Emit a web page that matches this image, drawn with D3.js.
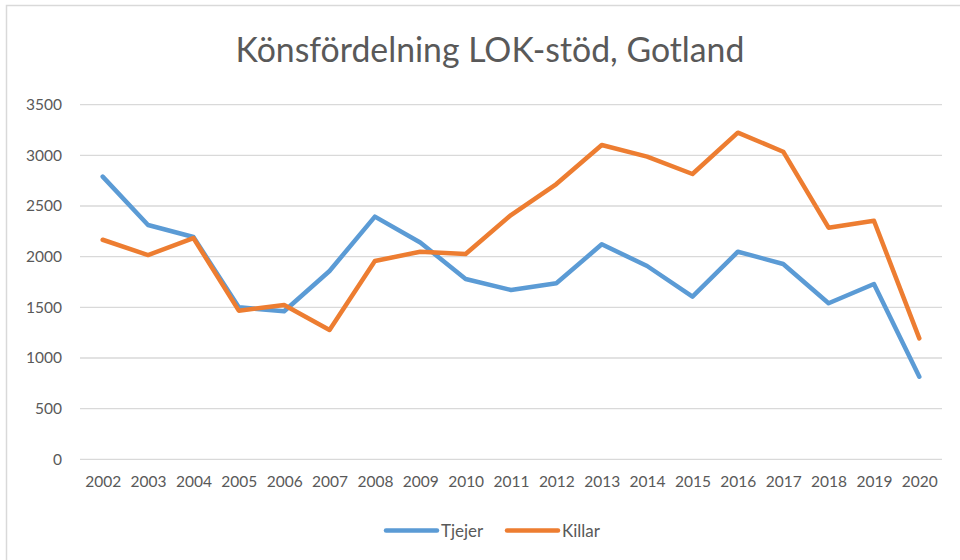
<!DOCTYPE html>
<html>
<head>
<meta charset="utf-8">
<script src="https://cdn.jsdelivr.net/npm/d3@7"></script>
<style>
  html, body { margin: 0; padding: 0; background: #fff; }
  svg { display: block; }
</style>
</head>
<body>
<svg id="chart" width="960" height="560"></svg>
<script>
const title = "Könsfördelning LOK-stöd, Gotland";
const years = ["2002","2003","2004","2005","2006","2007","2008","2009","2010","2011","2012","2013","2014","2015","2016","2017","2018","2019","2020"];
const tjejer = [2790, 2313, 2194, 1500, 1461, 1859, 2395, 2140, 1780, 1671, 1737, 2122, 1908, 1605, 2049, 1928, 1540, 1730, 815];
const killar = [2167, 2016, 2184, 1467, 1523, 1276, 1957, 2049, 2026, 2411, 2717, 3102, 2987, 2816, 3224, 3036, 2286, 2355, 1194];
const yTicks = [0, 500, 1000, 1500, 2000, 2500, 3000, 3500];
const seriesNames = ["Tjejer", "Killar"];
const seriesColors = ["#5b9bd5", "#ed7d31"];

const svg = d3.select("#chart");
const font = "Lato, 'Open Sans', sans-serif";
const textColor = "#595959";

// outer border
svg.append("rect")
  .attr("x", 6.5).attr("y", 5.5).attr("width", 1000).attr("height", 1000)
  .attr("fill", "#fff").attr("stroke", "#d9d9d9").attr("stroke-width", 1.5);

const x = d3.scalePoint().domain(years).range([80, 942]).padding(0.5);
const y = d3.scaleLinear().domain([0, 3500]).range([459.3, 104.7]);

// gridlines
svg.append("g")
  .selectAll("line").data(yTicks).join("line")
  .attr("x1", 80).attr("x2", 942)
  .attr("y1", d => y(d)).attr("y2", d => y(d))
  .attr("stroke", "#d9d9d9").attr("stroke-width", 1.3);

// y axis
const yAxis = svg.append("g")
  .attr("transform", "translate(80,0)")
  .call(d3.axisLeft(y).tickValues(yTicks).tickSize(0).tickPadding(18).tickFormat(d3.format("d")));
yAxis.select(".domain").remove();
yAxis.selectAll("text").attr("fill", textColor).style("font-family", font).style("font-size", "15.5px");

// x axis
const xAxis = svg.append("g")
  .attr("transform", "translate(0,459.3)")
  .call(d3.axisBottom(x).tickSize(0).tickPadding(17));
xAxis.select(".domain").remove();
xAxis.selectAll("text").attr("fill", textColor).style("font-family", font).style("font-size", "15.5px");

// lines
const series = [tjejer, killar];
const line = d3.line().x((d, i) => x(years[i])).y(d => y(d));
series.forEach((s, k) => {
  svg.append("path")
    .datum(s)
    .attr("d", line)
    .attr("fill", "none")
    .attr("stroke", seriesColors[k])
    .attr("stroke-width", 4.5)
    .attr("stroke-linejoin", "round")
    .attr("stroke-linecap", "round");
});

// title
const t = svg.append("text")
  .attr("x", 490).attr("y", 62)
  .attr("text-anchor", "middle")
  .attr("fill", textColor)
  .style("font-family", font)
  .style("font-size", "30px")
  .text(title);
const tw = t.node().getComputedTextLength();
t.style("font-size", (30 * 509 / tw) + "px");

// legend
const legendX = [384, 505];
seriesNames.forEach((name, k) => {
  const g = svg.append("g");
  g.append("line")
    .attr("x1", legendX[k] + 2).attr("x2", legendX[k] + 53)
    .attr("y1", 530.5).attr("y2", 530.5)
    .attr("stroke", seriesColors[k]).attr("stroke-width", 4.5)
    .attr("stroke-linecap", "round");
  g.append("text")
    .attr("x", legendX[k] + 57).attr("y", 536.5)
    .attr("fill", textColor)
    .style("font-family", font).style("font-size", "17px")
    .text(name);
});
</script>
</body>
</html>
